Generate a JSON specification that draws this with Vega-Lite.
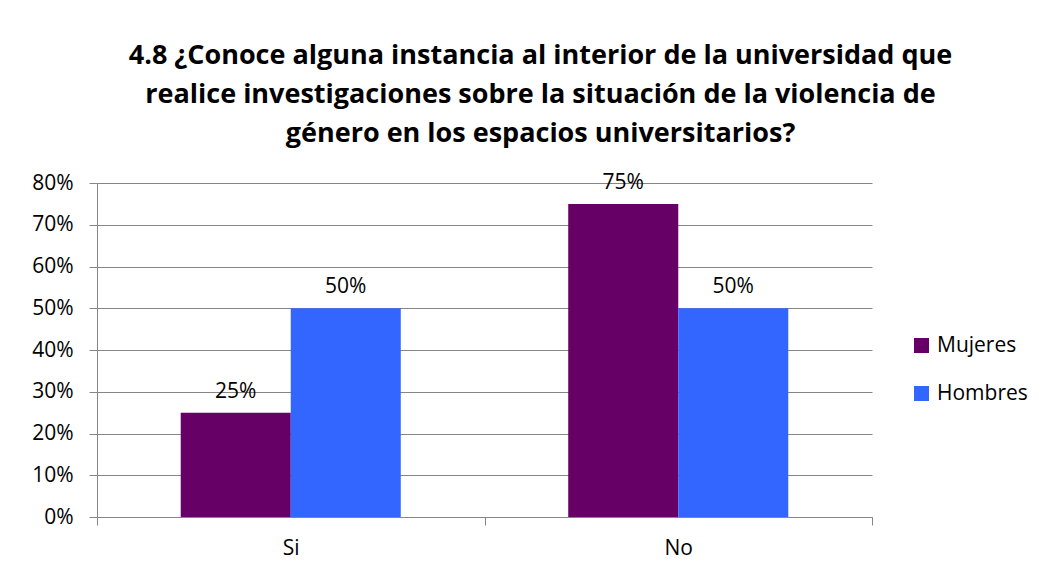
{
  "$schema": "https://vega.github.io/schema/vega-lite/v6.json",
  "autosize": "none",
  "width": 775,
  "height": 334,
  "padding": {"left": 97, "top": 183, "right": 173, "bottom": 59},
  "background": "white",
  "title": {
    "text": ["4.8 ¿Conoce alguna instancia al interior de la universidad que", "realice investigaciones sobre la situación de la violencia de", "género en los espacios universitarios?"],
    "font": "Open Sans",
    "fontSize": 27,
    "fontWeight": "bold",
    "color": "black",
    "lineHeight": 39,
    "anchor": "middle",
    "dx": 56,
    "offset": 24
  },
  "data": {
    "values": [
      {"respuesta": "Si", "sexo": "Mujeres", "valor": 0.25},
      {"respuesta": "Si", "sexo": "Hombres", "valor": 0.5},
      {"respuesta": "No", "sexo": "Mujeres", "valor": 0.75},
      {"respuesta": "No", "sexo": "Hombres", "valor": 0.5}
    ]
  },
  "config": {
    "view": {"stroke": null},
    "font": "Open Sans",
    "axis": {"labelFont": "Open Sans", "labelFontSize": 21, "labelColor": "black", "domainColor": "#868686", "tickColor": "#868686", "gridColor": "#868686", "tickSize": 8}
  },
  "encoding": {
    "x": {
      "field": "respuesta",
      "type": "nominal",
      "sort": ["Si", "No"],
      "title": null,
      "scale": {"paddingInner": 0, "paddingOuter": 0},
      "axis": {"labelAngle": 0, "tickBand": "extent", "labelPadding": 12, "grid": false}
    },
    "xOffset": {"field": "sexo", "type": "nominal", "sort": ["Mujeres", "Hombres"], "scale": {"paddingInner": 0, "paddingOuter": 0.761}},
    "y": {
      "field": "valor",
      "type": "quantitative",
      "title": null,
      "scale": {"domain": [0, 0.8], "nice": false},
      "axis": {"format": ".0%", "values": [0, 0.1, 0.2, 0.3, 0.4, 0.5, 0.6, 0.7, 0.8], "labelPadding": 16, "grid": true}
    }
  },
  "layer": [
    {
      "mark": {"type": "bar"},
      "encoding": {
        "color": {
          "field": "sexo",
          "type": "nominal",
          "sort": ["Mujeres", "Hombres"],
          "scale": {"domain": ["Mujeres", "Hombres"], "range": ["#660066", "#3366FF"]},
          "legend": {
            "title": null,
            "orient": "none",
            "legendX": 814,
            "legendY": 152,
            "symbolType": "square",
            "symbolSize": 225,
            "symbolStrokeWidth": 0,
            "labelFont": "Open Sans",
            "labelFontSize": 21,
            "labelColor": "black",
            "rowPadding": 26,
            "labelOffset": 5
          }
        }
      }
    },
    {
      "mark": {"type": "text", "baseline": "bottom", "dy": -11, "fontSize": 21, "font": "Open Sans", "color": "black"},
      "encoding": {
        "text": {"field": "valor", "type": "quantitative", "format": ".0%"}
      }
    }
  ]
}
